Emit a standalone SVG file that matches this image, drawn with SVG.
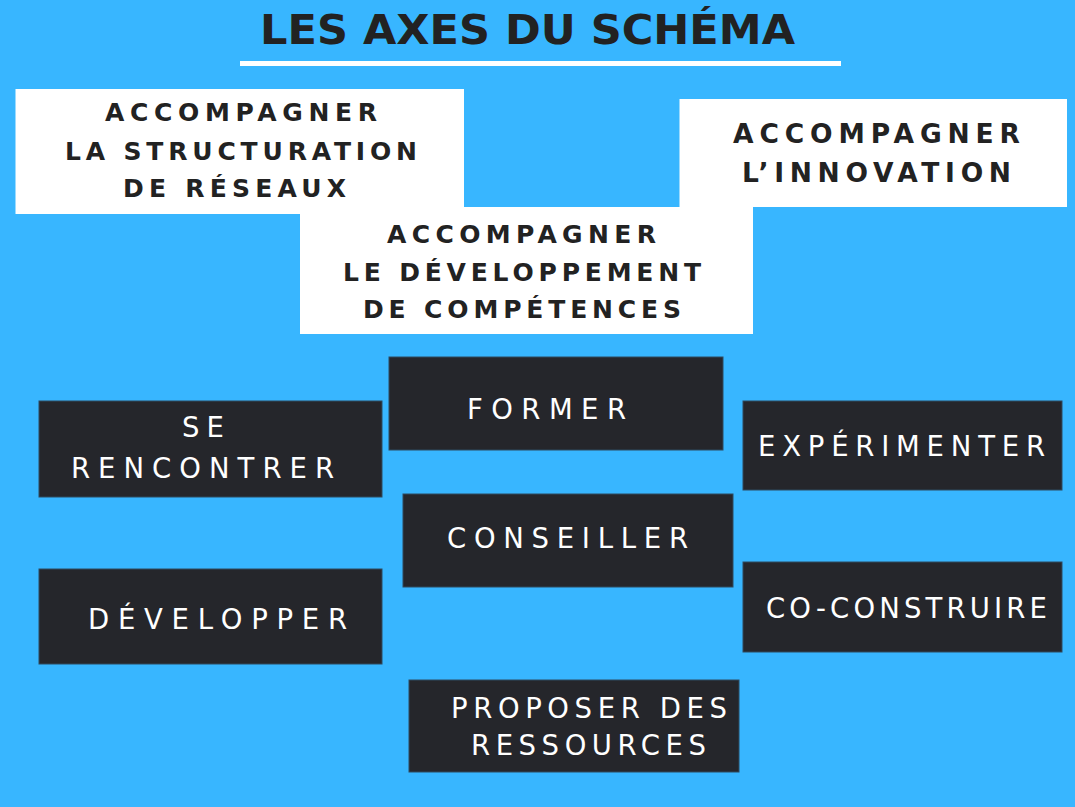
<svg xmlns="http://www.w3.org/2000/svg" width="1075" height="807" viewBox="0 0 1075 807">
<style>
.bg{fill:#38B6FF}
.wbox{fill:#FFFFFF}
.dbox{fill:#25262B;stroke:#2F4A60;stroke-width:1}
.title{font-family:"DejaVu Sans","Liberation Sans",sans-serif;font-weight:bold;font-size:41px;fill:#222222}
.wt{font-family:"DejaVu Sans","Liberation Sans",sans-serif;font-weight:bold;font-size:25px;fill:#222222}
.wt2{font-family:"DejaVu Sans","Liberation Sans",sans-serif;font-weight:bold;font-size:26.5px;fill:#222222}
.dt{font-family:"DejaVu Sans","Liberation Sans",sans-serif;font-size:27.5px;fill:#FFFFFF}
</style>
<rect class="bg" x="0" y="0" width="1075" height="807"/>
<g id="title">
<text class="title" x="260" y="44" textLength="535" lengthAdjust="spacingAndGlyphs">LES AXES DU SCHÉMA</text>
<rect x="240" y="61" width="601" height="5" fill="#FFFFFF"/>
</g>
<g id="axe-reseaux">
<rect class="wbox" x="15.5" y="89" width="448.5" height="125"/>
<text class="wt" x="105" y="121" textLength="272" lengthAdjust="spacing">ACCOMPAGNER</text>
<text class="wt" x="65" y="160" textLength="352" lengthAdjust="spacing">LA STRUCTURATION</text>
<text class="wt" x="123" y="197" textLength="223" lengthAdjust="spacing">DE RÉSEAUX</text>
</g>
<g id="axe-innovation">
<rect class="wbox" x="679.5" y="99" width="387.5" height="108"/>
<text class="wt2" x="733" y="143" textLength="287" lengthAdjust="spacing">ACCOMPAGNER</text>
<text class="wt2" x="742" y="182" textLength="269" lengthAdjust="spacing">L’INNOVATION</text>
</g>
<g id="axe-competences">
<rect class="wbox" x="300" y="207" width="453" height="127"/>
<text class="wt" x="387" y="242.5" textLength="269" lengthAdjust="spacing">ACCOMPAGNER</text>
<text class="wt" x="343" y="280.5" textLength="358" lengthAdjust="spacing">LE DÉVELOPPEMENT</text>
<text class="wt" x="363" y="318" textLength="318" lengthAdjust="spacing">DE COMPÉTENCES</text>
</g>
<g id="connectors"></g>
<g id="se-rencontrer">
<rect class="dbox" x="39" y="401" width="343" height="96"/>
<text class="dt" x="182" y="437" textLength="42" lengthAdjust="spacing">SE</text>
<text class="dt" x="71" y="478" textLength="263" lengthAdjust="spacing">RENCONTRER</text>
</g>
<g id="former">
<rect class="dbox" x="389" y="357" width="334" height="93"/>
<text class="dt" x="467" y="419" textLength="159" lengthAdjust="spacing">FORMER</text>
</g>
<g id="experimenter">
<rect class="dbox" x="743" y="401" width="319" height="89"/>
<text class="dt" x="758" y="456" textLength="287" lengthAdjust="spacing">EXPÉRIMENTER</text>
</g>
<g id="conseiller">
<rect class="dbox" x="403" y="494" width="330" height="93"/>
<text class="dt" x="447" y="548" textLength="241" lengthAdjust="spacing">CONSEILLER</text>
</g>
<g id="developper">
<rect class="dbox" x="39" y="569" width="343" height="95"/>
<text class="dt" x="88" y="629" textLength="259" lengthAdjust="spacing">DÉVELOPPER</text>
</g>
<g id="co-construire">
<rect class="dbox" x="743" y="562" width="319" height="90"/>
<text class="dt" x="766" y="618" textLength="281" lengthAdjust="spacing">CO-CONSTRUIRE</text>
</g>
<g id="proposer">
<rect class="dbox" x="409" y="680" width="330" height="92"/>
<text class="dt" x="451" y="718" textLength="276" lengthAdjust="spacing">PROPOSER DES</text>
<text class="dt" x="471" y="755" textLength="235" lengthAdjust="spacing">RESSOURCES</text>
</g>
</svg>
